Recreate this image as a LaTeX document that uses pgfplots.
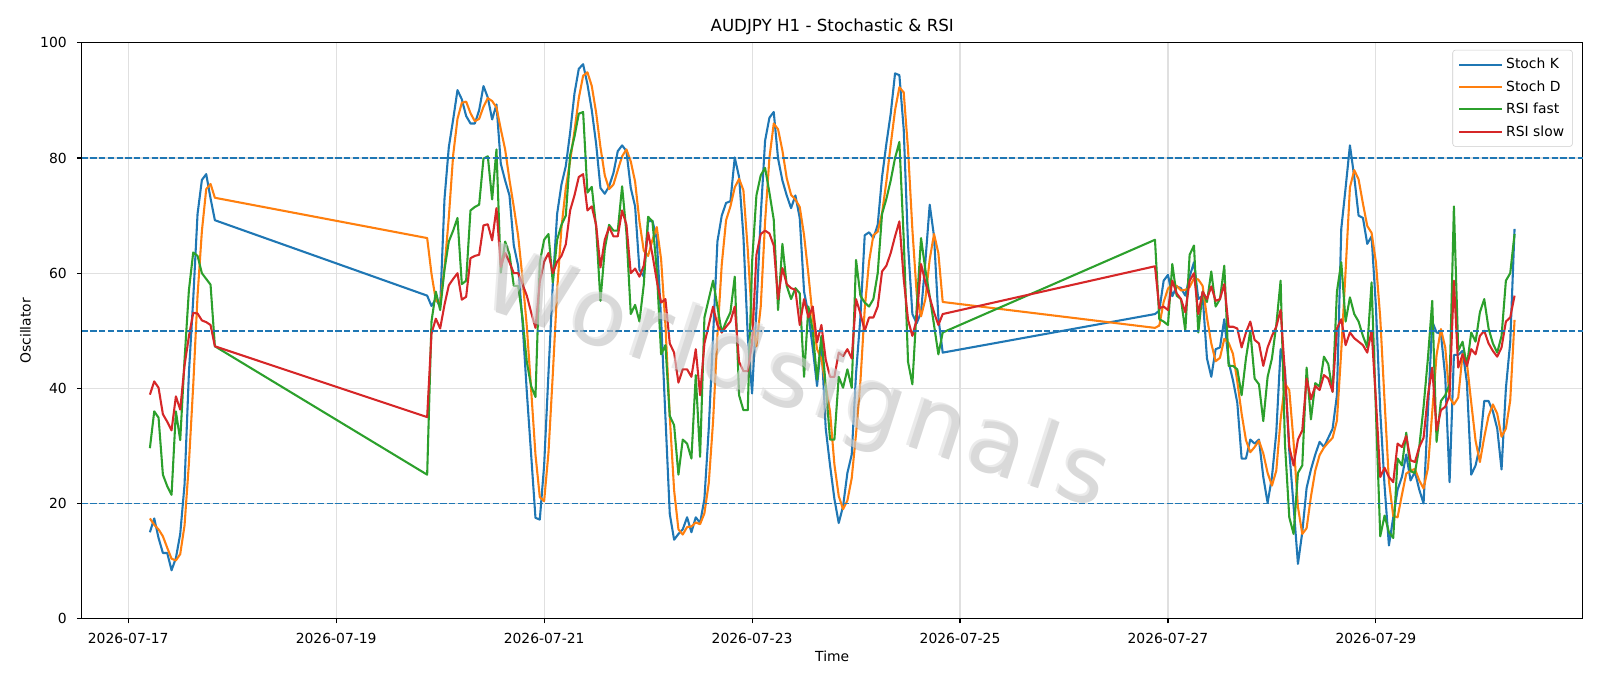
\documentclass[border=0pt]{standalone}
\usepackage{fontspec}
\setmainfont{DejaVu Sans}
\usepackage{pgfplots}
\usepackage{pgfplotstable}
\pgfplotsset{compat=1.18}

\definecolor{c0}{HTML}{1F77B4}
\definecolor{c1}{HTML}{FF7F0E}
\definecolor{c2}{HTML}{2CA02C}
\definecolor{c3}{HTML}{D62728}

% h = hours since 2026-07-17 00:00; K, D = stochastic; F, S = RSI fast / slow
\pgfplotstableread{
h K D F S
5 15.0 17.4 29.6 38.9
6 17.4 16.3 36.0 41.2
7 14.0 15.5 34.9 40.1
8 11.4 14.3 25.0 35.5
9 11.4 12.3 23.0 34.2
10 8.4 10.4 21.5 32.7
11 10.5 10.1 36.0 38.6
12 14.7 11.2 31.0 36.3
13 23.3 16.2 45.0 44.0
14 42.6 26.9 57.0 49.0
15 55.5 40.5 63.6 53.1
16 70.3 56.1 63.0 53.0
17 76.2 67.3 60.0 51.8
18 77.2 74.6 59.0 51.5
19 73.0 75.5 58.0 51.0
20 69.2 73.1 47.3 47.3
69 56.1 66.1 25.0 35.0
70 54.3 59.9 51.6 49.5
71 55.5 55.3 56.8 52.1
72 54.2 54.7 53.6 50.4
73 72.9 60.9 60.6 54.5
74 81.9 69.7 65.5 57.9
75 86.7 80.5 67.4 59.0
76 91.8 86.8 69.6 60.0
77 90.2 89.6 58.1 55.4
78 87.3 89.8 58.7 55.9
79 86.0 87.8 70.9 62.6
80 86.0 86.4 71.5 63.0
81 88.3 86.8 71.9 63.2
82 92.5 88.9 79.9 68.3
83 90.5 90.4 80.3 68.5
84 86.7 89.9 72.8 65.7
85 89.3 88.8 81.5 71.3
86 79.0 85.0 60.1 61.1
87 76.1 81.5 65.5 63.5
88 73.5 76.2 63.3 61.9
89 64.8 71.5 57.8 60.0
90 61.3 66.5 57.8 60.0
91 51.6 59.2 52.3 58.1
92 39.4 50.8 44.6 56.1
93 28.5 39.8 40.4 53.2
94 17.5 28.5 38.5 50.5
95 17.2 21.1 61.9 58.5
96 26.6 20.4 65.8 62.0
97 42.6 28.8 66.8 63.5
98 58.1 42.4 58.4 60.0
99 70.3 57.0 65.8 62.0
100 75.4 67.9 68.4 63.0
101 78.6 74.8 70.0 65.0
102 84.4 79.5 80.5 70.9
103 91.2 84.7 83.7 73.5
104 95.5 90.4 87.7 76.7
105 96.3 94.3 88.0 77.2
106 92.8 94.9 74.0 70.9
107 88.3 92.5 75.0 71.6
108 82.5 87.9 68.0 68.4
109 74.8 81.9 55.2 61.0
110 73.8 77.0 64.2 65.8
111 75.1 74.6 68.4 68.0
112 77.4 75.4 67.4 66.4
113 81.2 77.9 67.4 66.4
114 82.2 80.3 75.1 70.9
115 81.2 81.5 67.0 68.4
116 74.8 79.4 52.9 60.0
117 71.6 75.9 54.5 60.8
118 60.6 69.0 51.6 59.4
119 59.4 63.9 58.0 61.3
120 69.0 63.0 69.8 67.1
121 69.1 65.8 69.0 63.2
122 66.0 68.0 60.6 58.7
123 52.0 62.4 45.9 54.9
124 35.0 51.0 47.5 55.5
125 18.2 35.1 35.2 47.8
126 13.7 22.3 33.6 46.2
127 14.7 15.5 25.0 41.0
128 15.5 14.6 31.1 43.3
129 17.6 15.9 30.4 43.3
130 15.0 16.0 27.8 42.0
131 17.6 16.7 42.3 46.8
132 16.6 16.4 28.1 38.8
133 20.8 18.3 52.3 47.8
134 33.0 23.5 55.5 51.0
135 49.1 34.3 58.7 54.2
136 65.5 49.2 54.2 51.0
137 70.0 61.5 49.7 49.7
138 72.2 69.2 51.6 50.7
139 72.5 71.6 53.2 51.6
140 80.1 74.9 59.4 54.2
141 76.7 76.4 38.8 44.6
142 66.4 74.4 36.2 43.0
143 49.1 64.1 36.2 43.0
144 39.1 51.5 61.9 47.8
145 53.6 47.3 73.5 63.2
146 70.0 54.2 77.0 66.8
147 83.0 68.9 78.3 67.4
148 87.0 80.0 74.0 66.9
149 88.0 86.0 69.3 64.8
150 79.9 85.0 53.6 55.5
151 76.1 81.3 65.1 60.9
152 73.5 76.5 57.8 58.1
153 71.3 73.6 55.5 57.4
154 73.5 72.8 57.4 57.1
155 69.6 71.5 56.5 51.0
156 56.8 66.6 42.0 55.5
157 52.9 59.8 54.2 52.3
158 47.0 52.2 50.0 54.2
159 40.4 46.8 41.5 48.0
160 48.0 45.1 49.1 51.0
161 33.0 40.5 40.5 45.0
162 26.6 35.9 31.1 42.0
163 20.8 26.8 31.1 42.0
164 16.6 21.3 42.0 46.2
165 19.5 19.0 40.1 45.6
166 25.3 20.5 43.3 46.8
167 28.5 24.4 40.1 45.2
168 42.6 32.1 62.3 55.5
169 52.3 41.1 56.1 53.0
170 66.6 53.8 54.9 50.0
171 67.1 62.0 54.2 52.3
172 66.1 66.6 55.5 52.3
173 68.4 67.2 60.0 54.2
174 76.7 70.4 70.3 60.3
175 82.5 75.9 72.9 61.3
176 87.7 82.3 76.1 63.5
177 94.7 88.3 80.0 66.4
178 94.4 92.3 82.8 69.0
179 85.0 91.4 66.0 59.0
180 65.0 81.5 44.6 51.9
181 52.9 67.6 40.7 49.1
182 51.3 56.4 54.0 52.0
183 53.2 52.5 66.1 61.6
184 62.0 55.5 60.6 58.4
185 71.9 62.4 56.0 55.8
186 66.4 66.8 51.0 53.2
187 52.3 63.5 45.9 51.0
188 46.2 55.0 49.7 52.9
237 52.9 50.5 65.8 61.2
238 53.5 50.9 52.0 53.9
239 58.7 55.0 51.6 54.2
240 59.7 57.3 51.0 53.6
241 56.0 58.1 61.6 58.7
242 57.7 57.8 56.1 56.5
243 57.4 57.0 55.5 55.5
244 56.1 57.1 50.0 53.2
245 59.4 57.6 63.2 58.7
246 61.9 59.1 64.8 60.0
247 55.5 58.9 49.7 52.9
248 56.1 57.8 56.8 56.8
249 45.2 52.3 55.0 55.5
250 42.0 47.8 60.3 57.7
251 46.8 44.7 54.2 55.2
252 47.1 45.3 55.5 55.5
253 52.0 48.6 61.3 58.1
254 44.6 47.9 43.9 50.7
255 41.4 46.0 43.9 50.7
256 37.5 41.2 43.3 50.4
257 27.8 35.6 38.8 47.1
258 27.8 31.0 45.2 49.7
259 31.1 28.9 50.0 51.6
260 30.4 29.8 41.7 48.4
261 31.1 30.9 40.7 47.8
262 24.6 28.7 34.3 43.9
263 20.1 25.3 42.0 47.1
264 24.6 23.1 45.2 49.1
265 32.3 25.7 51.0 50.7
266 46.8 34.6 58.7 53.6
267 43.2 40.8 30.4 42.6
268 29.1 39.7 17.6 29.8
269 19.5 30.6 14.7 26.6
270 9.5 19.4 25.3 31.1
271 15.0 14.7 26.6 32.7
272 22.7 15.7 43.6 41.7
273 25.9 21.2 34.6 38.1
274 28.5 25.7 40.9 40.4
275 30.7 28.4 40.3 39.7
276 29.8 29.7 45.5 42.3
277 31.4 30.6 44.2 41.7
278 33.0 31.4 39.4 39.4
279 38.8 34.4 56.8 50.4
280 67.7 46.5 61.9 52.0
281 74.8 60.4 51.6 47.5
282 82.2 74.9 55.8 49.7
283 76.7 77.9 52.9 48.7
284 70.0 76.3 51.6 48.1
285 69.6 72.1 49.1 47.5
286 65.1 68.2 47.1 46.2
287 66.4 67.0 58.4 50.0
288 54.2 61.9 36.0 38.0
289 36.0 52.2 14.3 24.6
290 23.0 37.7 17.9 26.2
291 12.7 23.9 15.0 24.6
292 17.6 17.8 14.0 23.7
293 22.4 17.6 27.8 30.4
294 24.6 21.5 26.6 29.8
295 28.5 25.2 32.3 31.7
296 24.0 25.7 25.6 27.5
297 25.5 26.0 25.3 27.2
298 22.4 24.0 29.8 29.8
299 20.0 22.6 36.8 31.4
300 36.0 26.1 45.2 38.8
301 51.6 35.9 55.2 43.6
302 49.7 45.8 30.7 32.7
303 49.5 50.3 37.8 36.2
304 42.0 47.1 38.8 36.8
305 23.7 38.4 40.7 38.8
306 45.8 37.2 71.6 58.7
307 45.8 38.4 46.5 43.6
308 46.5 46.0 48.1 45.9
309 41.0 44.4 43.9 43.9
310 25.0 37.5 49.7 46.8
311 26.6 30.9 48.1 45.9
312 30.0 27.2 53.2 49.1
313 37.8 31.5 55.5 50.0
314 37.8 35.2 50.4 47.8
315 36.0 37.2 47.8 46.5
316 33.0 35.6 46.2 45.5
317 25.9 31.6 49.1 47.1
318 40.0 33.0 58.7 51.6
319 48.0 37.9 60.0 52.3
320 67.7 51.9 66.8 56.1
}\osc

\newfontfamily\wmfont[LetterSpace=7]{DejaVu Sans}

\begin{document}
\begin{tikzpicture}
\begin{axis}[
  scale only axis,
  width=1080.8pt, height=414.5pt,
  xmin=-10.75, xmax=335.75,
  ymin=0, ymax=100,
  xtick={0,48,96,144,192,240,288},
  xticklabels={2026-07-17,2026-07-19,2026-07-21,2026-07-23,2026-07-25,2026-07-27,2026-07-29},
  ytick={0,20,40,60,80,100},
  /pgf/number format/assume math mode=true,
  grid=major,
  grid style={black!12, line width=0.8pt},
  axis line style={line width=0.8pt},
  tick align=outside, tick pos=left,
  major tick length=3.5pt,
  tick style={black, line width=0.8pt},
  ticklabel style={font=\fontsize{10}{12}\selectfont},
  xticklabel style={yshift=-3.7pt},
  yticklabel style={xshift=-3.7pt},
  title={AUDJPY H1 - Stochastic \& RSI},
  title style={font=\fontsize{12}{14}\selectfont, at={(axis description cs:0.5,1.0128)}, anchor=center},
  xlabel={Time},
  xlabel style={font=\fontsize{10}{12}\selectfont, at={(axis description cs:0.5,-0.0651)}, anchor=center},
  ylabel={Oscillator},
  ylabel style={font=\fontsize{10}{12}\selectfont, at={(axis description cs:-0.0374,0.5)}, anchor=center},
  legend style={at={(0.9933,0.988)}, anchor=north east, draw=black!20, rounded corners=2pt,
    fill=white, fill opacity=0.8, text opacity=1, font=\fontsize{10}{12}\selectfont,
    row sep=3pt, inner sep=4pt},
  legend cell align=left,
  legend image code/.code={\path (0pt,0pt) -- (31pt,0pt); \draw[#1] (4pt,0pt) -- (25pt,0pt);},
  every axis plot/.append style={line width=1.5pt, line join=round},
]
\addplot[c0] table[x=h, y=K] {\osc};
\addlegendentry{Stoch K}
\addplot[c1] table[x=h, y=D] {\osc};
\addlegendentry{Stoch D}
\addplot[c2] table[x=h, y=F] {\osc};
\addlegendentry{RSI fast}
\addplot[c3] table[x=h, y=S] {\osc};
\addlegendentry{RSI slow}

\addplot[c0, forget plot, line width=1.2pt, dash pattern=on 4.4pt off 1.9pt] coordinates {(-10.75,80) (335.75,80)};
\addplot[c0, forget plot, line width=1.2pt, dash pattern=on 4.4pt off 1.9pt] coordinates {(-10.75,50) (335.75,50)};
\addplot[c0, forget plot, line width=1.2pt, dash pattern=on 4.4pt off 1.9pt] coordinates {(-10.75,20) (335.75,20)};

% watermark
\node[rotate=-18, text=black!50, opacity=0.3, font=\wmfont\fontsize{66}{66}\selectfont]
  at ([xshift=1.6pt, yshift=-1.6pt]rel axis cs:0.474,0.412) {Worldsignals};
\node[rotate=-18, text=black!14, opacity=0.55, font=\wmfont\fontsize{66}{66}\selectfont]
  at (rel axis cs:0.474,0.412) {Worldsignals};
\end{axis}
\pgfresetboundingbox
\path[use as bounding box] (-58.8pt,-48.5pt) rectangle (1093.2pt,445.4pt);
\end{tikzpicture}
\end{document}
